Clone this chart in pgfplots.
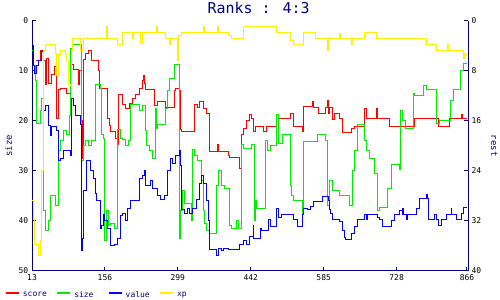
\documentclass[border=0pt]{standalone}
\usepackage{fontspec}
\setmainfont{DejaVu Sans Mono}
\setsansfont{DejaVu Sans Mono}
\setmonofont{DejaVu Sans Mono}
\usepackage{pgfplots}
\pgfplotsset{compat=1.18}
\definecolor{navy}{RGB}{0,0,128}
\definecolor{cred}{RGB}{255,0,0}
\definecolor{cgreen}{RGB}{0,235,0}
\definecolor{cblue}{RGB}{0,0,255}
\definecolor{cyellow}{RGB}{255,240,0}
\begin{document}
\begin{tikzpicture}
\useasboundingbox (0,0) rectangle (500bp,300bp);
\begin{axis}[
  at={(32bp,29.3bp)}, anchor=south west,
  scale only axis, width=436bp, height=250bp,
  xmin=13, xmax=868, ymin=0, ymax=50, y dir=reverse,
  axis x line*=bottom, axis y line*=left,
  axis line style={-, navy, line width=1bp},
  tick style={navy, line width=1bp}, tick align=inside, major tick length=4bp,
  xtick={13,156,299,442,585,728,866}, ytick={0,10,20,30,40,50},
  /pgf/number format/assume math mode=true,
  ticklabel style={font=\fontsize{8}{9}\selectfont, text=black},
  title={Ranks : 4:3},
  title style={font=\fontsize{15}{15}\selectfont, text=navy, at={(axis description cs:0.52,1.027)}, anchor=base, inner sep=0pt, yshift=0pt},
  every axis title shift=0pt,
  ylabel={size},
  ylabel style={font=\fontsize{9}{9}\selectfont, text=navy, at={(axis description cs:-0.054,0.5)}, anchor=center},
  legend columns=4,
  legend style={draw=none, fill=none, font=\fontsize{8}{9}\selectfont, text=navy,
    at={(axis description cs:-0.0642,-0.099)}, anchor=west, inner sep=0pt, column sep=0pt,
    nodes={inner sep=0pt, outer sep=0pt}},
  legend image code/.code={\draw[#1, line width=2.4bp] (0bp,2.6bp) -- (13bp,2.6bp);},
  const plot, line width=1bp,
]
% score
\addplot[cred, mark=none] coordinates {
(20,8) (29,6) (35,8) (38.5,12.8) (42,7.5) (45,12.5) (51.6,10.8) (58,9.1) (61.4,19.5) (64.7,13.8) (68,13.5) (81,14.5) (87.6,6.1) (91,8.8) (94,9.8) (104,12.8) (107,10) (110,20) (111.5,27.5) (114,7.8) (117,6.5) (123.6,5.9) (130,8) (143,10) (146,13.5) (160.7,19.5) (164,21) (167.3,22.1) (177,23.5) (180,24.8) (183.6,14.8) (190,16.8) (196.7,17.5) (203.3,16.5) (209.8,15.5) (216.3,14.8) (222.9,13.5) (229.4,12) (231,11) (233,12.5) (236,13.8) (252.3,17) (258.8,16.1) (275.2,17.3) (291.5,14) (294,13.5) (301.4,14) (303.5,21.8) (305.8,22.1) (332,16.8) (338,17.3) (341.8,16.1) (348.4,17.5) (354.9,18.5) (361.4,26.1) (376,24.8) (378,26.1) (397.4,27) (400.7,27.3) (420.3,29.5) (423.6,22.8) (426.8,21.5) (433.4,20) (439.9,18.8) (444.4,19.5) (447.7,22.1) (451,21.1) (467.3,22.1) (473.8,21.1) (493.4,18.8) (496.7,19.6) (519.6,18.6) (526.2,21.1) (542.5,22.1) (545.8,17.1) (562.1,16.1) (565.4,17.3) (575.2,18.5) (588.3,17.3) (592,16) (594,18.5) (596,17.3) (602.6,19.8) (605.9,18.6) (615.7,19.6) (622.2,22.3) (638.6,21.5) (645.1,21.1) (664.7,17.5) (668,19.6) (687.6,17.5) (690,19.6) (713.8,21.1) (763.4,19.6) (809.2,21.1) (832,19.6) (855,18.8) (858,19.6) (866,19.6)
};
\addlegendentry{\makebox[36bp][l]{\hspace{3bp}score}}
% size
\addplot[cgreen, mark=none] coordinates {
(13,6) (15,9) (18.9,12) (22.2,20.5) (28.7,18) (32,15.5) (35.3,38) (38.5,42) (45,40) (48.3,35) (58.2,37) (64.7,26) (68,24) (74.5,22) (81,22.8) (86,19) (88.9,5.5) (92.8,4.7) (107.2,4.7) (110,40) (111,28) (114,25) (117,24) (123.6,25) (130,24) (136.6,12.8) (146.4,13.5) (149.7,22.8) (154,23.5) (156,44) (159.4,38) (163,41) (167.3,40.5) (173.8,41.5) (180.4,21.8) (185.6,23.5) (190,23.8) (196.7,25) (202,24) (206.5,16.8) (222.9,18) (229.4,17) (236,22) (238,25) (242.5,26) (249,27.5) (255.6,17.5) (257,21.5) (258.8,20.8) (275.2,17.5) (279,14) (281.7,11.5) (291.5,8.8) (301.4,8.8) (302.6,43.5) (305,38) (308,34) (312.4,36.5) (325.5,40) (328.7,25.8) (332,27) (338,28) (345,32) (348.4,38) (352,40.5) (355,42) (361.4,42.5) (374.5,33) (377.8,30) (384.3,33) (391,33.5) (400.7,41) (404,41.5) (414.5,40) (417.8,41.5) (423.6,24.8) (426.8,25.5) (440,25.5) (444.4,24.8) (449,24.8) (450,40) (451,36) (454,37.5) (470.6,24) (474,26) (480,25) (493.4,18.8) (496.7,24.5) (503.3,22.8) (516,22.8) (519.6,33) (522,35) (526,36) (542.5,38.8) (545.8,24.1) (572,22.8) (588.3,24) (592.8,37) (596,32) (602.6,34) (615.7,35) (635.3,37) (641.8,30) (645,26) (651.6,20.8) (664.7,24) (668,26) (674.5,27.5) (684.3,30.5) (690.9,38) (694,37.3) (710.5,33.5) (717,28.8) (733.4,29.8) (736,18) (740.5,20) (745,21.5) (761,14.5) (764,15) (780,13) (787,13.7) (807,20.5) (813,20) (833,16) (839.5,13.8) (852.5,10) (859,8.5) (866,8.5)
};
\addlegendentry{\makebox[36bp][l]{\hspace{3bp}size}}
% value
\addplot[cblue, mark=none] coordinates {
(13,5) (15,9) (17,10.5) (21,9) (25.5,8) (32,6.2) (35.3,18) (38.5,17) (45,21) (48.3,23) (51.6,21.1) (61.4,22) (64.7,28) (68,27.5) (74.5,26) (87.6,27) (90.9,15.5) (94,17) (97.4,19) (107.2,20.8) (110.5,45.9) (112,43.5) (113.7,34) (120.3,28) (126.8,30) (133.4,31.5) (136.6,34.5) (139.9,36) (146.4,41.5) (150,41) (153,38.8) (154.2,40) (160.7,41.5) (167.3,45) (173.8,44.8) (180.4,43.5) (186.9,39) (190.5,38.5) (196.7,40) (200,37.5) (206.5,36) (222.9,31.5) (229.4,31) (232.7,30) (236,33) (245.8,32) (249,33.5) (258.8,35) (265.4,35.8) (272,35) (278.5,30) (285,27.5) (288.3,28.5) (294.8,27) (301.4,26) (304,29) (305.8,37.8) (312.4,38.5) (318.9,37.5) (322,38.5) (328.7,37.5) (335.3,35.8) (341.8,32.5) (345.1,31) (350,32.5) (354.9,36) (358.2,40) (361.4,45.8) (374.5,46.9) (377.8,45.5) (384,46) (387.6,45.5) (397.4,45.8) (420.3,44.8) (426.8,44) (433.4,44.8) (439.9,43.1) (446.5,41) (447.7,43.5) (460.8,41.5) (464,42) (470.6,42) (477.1,39.8) (480.4,41.1) (493.4,37.5) (496.7,39.3) (503,38.8) (526.2,39.8) (532.7,41.1) (542.5,38.8) (545.8,37.5) (552.3,37.8) (558.9,37.1) (565.4,36.1) (581.7,35.1) (593.5,36) (596,37.8) (599.3,38.6) (602,39.8) (615.7,40.2) (622.2,42) (625.5,43.3) (628.7,43.7) (638.6,42.5) (645.1,41.1) (651.6,39.8) (664.7,38.8) (668,39.8) (671.3,38.8) (690.9,39.3) (694,39.8) (700.7,41.1) (717,40) (723.6,38.8) (733.4,38) (738.6,38.8) (740,37.5) (741,38.8) (747,39.8) (750.3,38.8) (766.7,37.5) (773.2,35.6) (786.3,34.8) (788,35.6) (789.6,39.8) (802.6,38.8) (806,39.8) (811,41) (815.7,39.8) (825.5,38.8) (835.3,37.5) (836,38.8) (845.2,39.8) (855,38.5) (858.2,37.3) (866,37.3)
};
\addlegendentry{\makebox[36bp][l]{\hspace{3bp}value}}
% xp
\addplot[cyellow, mark=none] coordinates {
(13,36) (15,39.5) (17,44.8) (25.5,47) (28.7,44) (32,30) (35.3,6) (38.5,5) (41.8,4.7) (58.2,6.5) (61.4,11) (64.7,6.8) (68,5.9) (77.8,6.8) (81,8) (84.3,12.8) (87.6,13) (90,6) (92.8,3.5) (107.2,5.9) (113.7,3.5) (159,3.5) (160,1.1) (162,3.5) (180.4,4.7) (190.2,2.4) (209.8,3.5) (212,2.3) (226,4.5) (229.4,2.3) (255.6,2.3) (257,1.1) (259,2.3) (275.2,3.5) (281.7,4.7) (285,3.5) (299.3,8) (301,3) (305.8,2.3) (348.4,2.3) (350,1.1) (352,2.3) (374.5,2.3) (376,1.1) (378,2.3) (397.4,3) (404,3.5) (426.8,1.1) (493.4,2.3) (519.6,4) (526.2,4.7) (545.8,2.3) (568.7,3.5) (592,6) (594,3.5) (615.7,2.5) (617,3.5) (640,4.7) (642,3.5) (664.7,2.3) (687.6,3.5) (786.3,4.7) (805.9,5.9) (828,4.7) (830,5.9) (858.2,7.5) (862,6.5) (866,7)
};
\addlegendentry{\makebox[36bp][l]{\hspace{3bp}xp}}
\end{axis}
\begin{axis}[
  at={(32bp,29.3bp)}, anchor=south west,
  scale only axis, width=436bp, height=250bp,
  xmin=13, xmax=868, ymin=0, ymax=40, y dir=reverse,
  axis x line=none, axis y line*=right,
  axis line style={-, navy, line width=1bp},
  tick style={navy, line width=1bp}, tick align=inside, major tick length=4bp,
  ytick={0,8,16,24,32,40},
  /pgf/number format/assume math mode=true,
  ticklabel style={font=\fontsize{8}{9}\selectfont, text=black},
  ylabel={rest},
  ylabel style={font=\fontsize{9}{9}\selectfont, text=navy, at={(axis description cs:1.06,0.5)}, anchor=center, rotate=180},
]
\end{axis}
\end{tikzpicture}
\end{document}
